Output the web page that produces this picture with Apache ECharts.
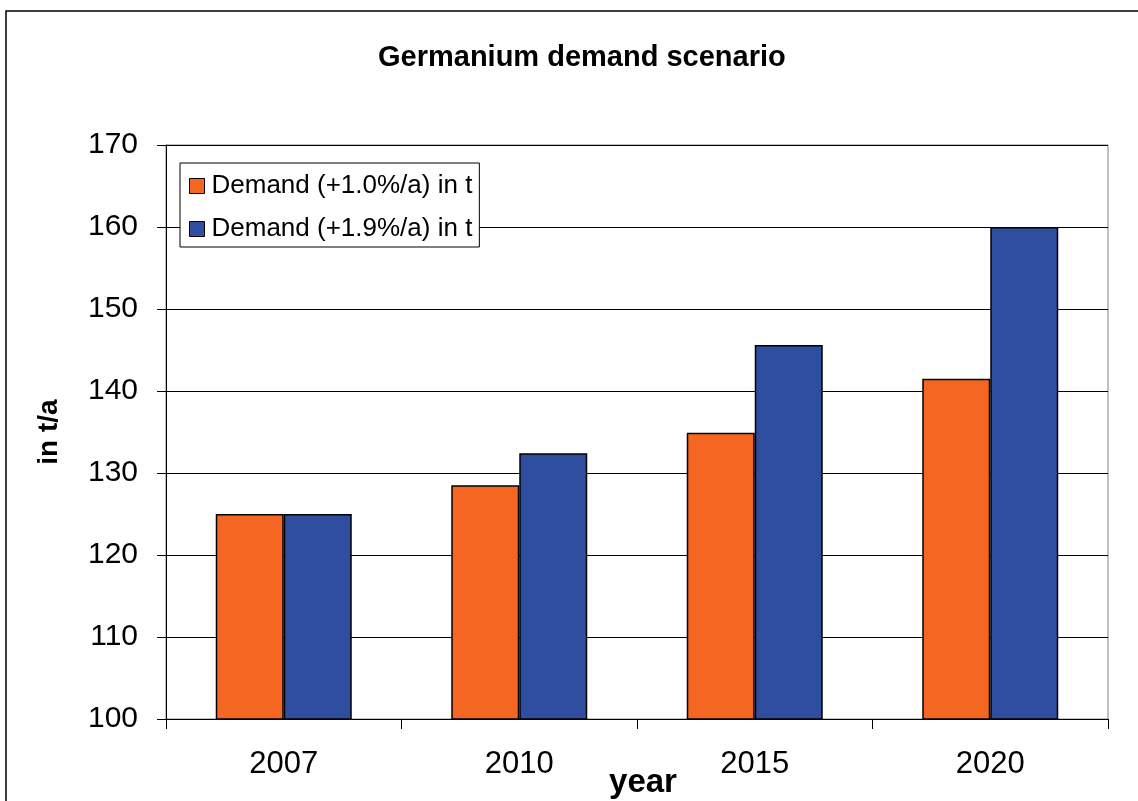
<!DOCTYPE html>
<html>
<head>
<meta charset="utf-8">
<script src="https://cdn.jsdelivr.net/npm/echarts@6/dist/echarts.min.js"></script>
<style>
  html, body { margin: 0; padding: 0; background: #fff; }
  #chart { width: 1138px; height: 801px; }
</style>
</head>
<body>
<div id="chart"></div>
<script>
// 数据
var years = ['2007', '2010', '2015', '2020'];
var demandLow = [125, 128.5, 134.9, 141.5];   // +1.0%/a
var demandHigh = [125, 132.4, 145.6, 160];    // +1.9%/a
var yTicks = [100, 110, 120, 130, 140, 150, 160, 170];

var font = 'Liberation Sans, Arial, sans-serif';
var myChart = echarts.init(document.getElementById('chart'));

var option = {
  animation: false,
  textStyle: { fontFamily: font },
  title: {
    text: 'Germanium demand scenario',
    left: 373,
    top: 38,
    textStyle: { fontSize: 29, fontWeight: 'bold', color: '#000', fontFamily: font }
  },
  graphic: [
    {
      type: 'rect',
      shape: { x: 6, y: 11, width: 1150, height: 820 },
      style: { fill: 'none', stroke: '#000', lineWidth: 1.5 },
      silent: true
    }
  ],
  legend: {
    left: 180,
    top: 163,
    orient: 'vertical',
    itemWidth: 15,
    itemHeight: 15,
    itemGap: 17,
    padding: [10, 7, 5, 9],
    borderColor: '#000',
    borderWidth: 1,
    backgroundColor: '#fff',
    icon: 'rect',
    itemStyle: { borderColor: '#000', borderWidth: 1 },
    textStyle: { fontSize: 26, color: '#000', fontFamily: font, padding: [0, 0, 0, 2] },
    data: ['Demand (+1.0%/a) in t', 'Demand (+1.9%/a) in t']
  },
  grid: {
    left: 166,
    top: 145,
    right: 30,
    bottom: 82,
    outerBoundsMode: 'none',
    containLabel: false,
    show: true,
    borderColor: '#808080',
    borderWidth: 1
  },
  xAxis: {
    type: 'category',
    data: years,
    name: 'year',
    nameLocation: 'middle',
    nameGap: 41,
    nameMoveOverlap: false,
    nameTextStyle: { fontSize: 33, fontWeight: 'bold', color: '#000', fontFamily: font, padding: [6, 0, 0, 12] },
    axisLine: { lineStyle: { color: '#000', width: 1 } },
    axisTick: { show: true, length: 10, lineStyle: { color: '#000' } },
    axisLabel: { fontSize: 31, color: '#000', margin: 30, fontFamily: font },
    splitLine: { show: false }
  },
  yAxis: {
    type: 'value',
    min: yTicks[0],
    max: yTicks[yTicks.length - 1],
    interval: 10,
    name: 'in t/a',
    nameLocation: 'middle',
    nameGap: 103,
    nameMoveOverlap: false,
    nameRotate: 90,
    nameTextStyle: { fontSize: 28, fontWeight: 'bold', color: '#000', fontFamily: font },
    axisLine: { show: true, lineStyle: { color: '#000', width: 1 } },
    axisTick: { show: true, length: 9, inside: false, lineStyle: { color: '#000' } },
    axisLabel: { fontSize: 30, color: '#000', margin: 28, fontFamily: font },
    splitLine: { show: true, lineStyle: { color: '#000', width: 1 } }
  },
  series: [
    {
      name: 'Demand (+1.0%/a) in t',
      type: 'bar',
      data: demandLow,
      barWidth: 68,
      barGap: '0%',
      itemStyle: { color: '#F46622', borderColor: '#000', borderWidth: 1.5 }
    },
    {
      name: 'Demand (+1.9%/a) in t',
      type: 'bar',
      data: demandHigh,
      barWidth: 68,
      barGap: '0%',
      itemStyle: { color: '#2F4EA0', borderColor: '#000', borderWidth: 1.5 }
    }
  ]
};

myChart.setOption(option);
</script>
</body>
</html>
